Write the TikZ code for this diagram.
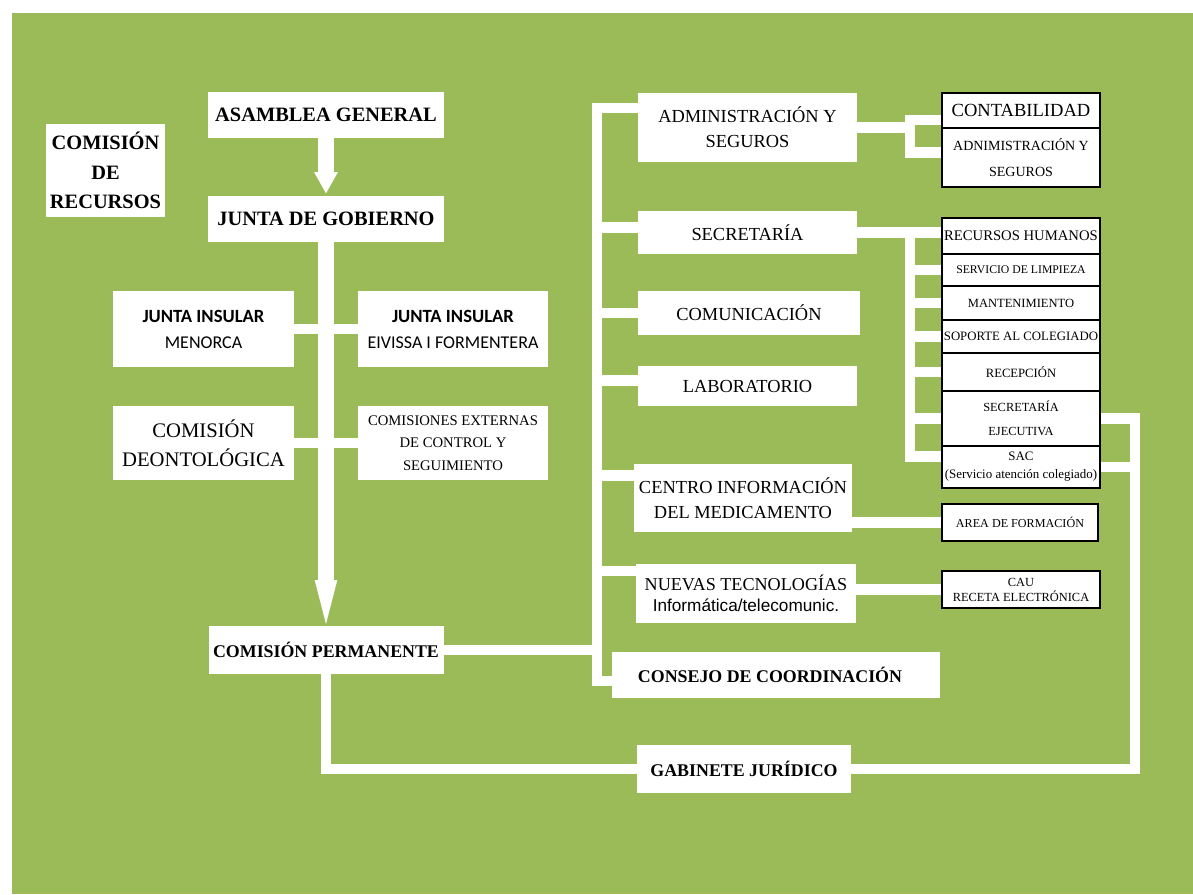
\documentclass[tikz,border=0pt]{standalone}
\usepackage{fontspec}
\setmainfont{Liberation Serif}
\newfontfamily\calibri{Carlito}
\newfontfamily\arial{Liberation Sans}
\usetikzlibrary{arrows.meta, positioning, backgrounds}
\definecolor{oliveback}{HTML}{9BBB59}
\newdimen\upx \upx=0.75pt
\tikzset{
  box/.style={fill=white, inner sep=0pt, outer sep=0pt, align=center},
  head/.style={box, font=\bfseries\fontsize{15.3}{22}\selectfont},
  unit/.style={box, font=\fontsize{13.8}{19}\selectfont},
  perm/.style={box, font=\bfseries\fontsize{13.4}{16}\selectfont},
  subbox/.style={box, draw=black, line width=1pt, minimum width=158\upx},
  link/.style={draw=white, line width=8pt},
  trunk/.style={draw=white, line width=11.5pt}
}

\begin{document}
\begin{tikzpicture}[x=0.75pt, y=-0.75pt]
    \useasboundingbox (0,0) rectangle (1193,894);

    % left column
    \node[head, minimum width=119\upx, minimum height=93\upx] (cdr) at (105.5,170.5) {COMISIÓN\\DE\\RECURSOS};
    \node[head, minimum width=236\upx, minimum height=46\upx] (ag) at (326,115) {ASAMBLEA GENERAL};
    \node[head, minimum width=236\upx, minimum height=46\upx] (jg) at (326,219) {JUNTA DE GOBIERNO};
    \node[box, font=\calibri\fontsize{13.5}{19.5}\selectfont, minimum width=181\upx, minimum height=76\upx] (men) at (203.5,329)
        {{\bfseries\fontsize{14}{19.5}\selectfont JUNTA INSULAR}\\MENORCA};
    \node[box, font=\calibri\fontsize{13.5}{19.5}\selectfont, minimum width=190\upx, minimum height=76\upx] (eiv) at (453,329)
        {{\bfseries\fontsize{14}{19.5}\selectfont JUNTA INSULAR}\\EIVISSA I FORMENTERA};
    \node[box, font=\fontsize{15.5}{22}\selectfont, minimum width=181\upx, minimum height=74\upx] (deo) at (203.5,443) {COMISIÓN\\DEONTOLÓGICA};
    \node[box, font=\fontsize{11}{17}\selectfont, minimum width=190\upx, minimum height=74\upx] (ext) at (453,443) {COMISIONES EXTERNAS\\DE CONTROL Y\\SEGUIMIENTO};
    \node[perm, minimum width=235\upx, minimum height=48\upx] (cp) at (326,650) {COMISIÓN PERMANENTE};

    % middle column
    \node[unit, minimum width=219\upx, minimum height=69\upx] (adm) at (747.5,127.5) {ADMINISTRACIÓN Y\\SEGUROS};
    \node[unit, minimum width=219\upx, minimum height=43\upx] (sec) at (747.5,232.5) {SECRETARÍA};
    \node[unit, minimum width=222\upx, minimum height=44\upx] (com) at (749,313) {COMUNICACIÓN};
    \node[unit, minimum width=219\upx, minimum height=40\upx] (lab) at (747.5,386) {LABORATORIO};
    \node[unit, minimum width=218\upx, minimum height=68\upx] (cim) at (743,498) {CENTRO INFORMACIÓN\\DEL MEDICAMENTO};
    \node[unit, font=\fontsize{13.6}{16}\selectfont, minimum width=220\upx, minimum height=59\upx] (nt) at (746,593.5)
        {NUEVAS TECNOLOGÍAS\\{\arial\fontsize{12.9}{16}\selectfont Informática/telecomunic.}};
    \node[perm, minimum width=328\upx, minimum height=46\upx] (cons) at (776,675) {CONSEJO DE COORDINACIÓN\hspace*{9pt}};
    \node[perm, minimum width=214\upx, minimum height=48\upx] (gj) at (744,769) {GABINETE JURÍDICO};

    % right column
    \node[subbox, minimum height=35\upx, font=\fontsize{13.9}{16}\selectfont] (cont) at (1021,110.5) {CONTABILIDAD};
    \node[subbox, below=0pt of cont, minimum height=59\upx, font=\fontsize{10.5}{19}\selectfont] (adn) {ADNIMISTRACIÓN Y\\SEGUROS};
    \node[subbox, minimum height=36\upx, font=\fontsize{11}{13}\selectfont] (rh) at (1021,236) {RECURSOS HUMANOS};
    \node[subbox, below=0pt of rh, minimum height=32\upx, font=\fontsize{8.8}{11}\selectfont] (serv) {SERVICIO DE LIMPIEZA};
    \node[subbox, below=0pt of serv, minimum height=34\upx, font=\fontsize{9.4}{11}\selectfont] (mant) {MANTENIMIENTO};
    \node[subbox, below=0pt of mant, minimum height=33\upx, font=\fontsize{9.6}{11}\selectfont] (sop) {SOPORTE AL COLEGIADO};
    \node[subbox, below=0pt of sop, minimum height=38\upx, font=\fontsize{9.5}{11}\selectfont] (recep) {RECEPCIÓN};
    \node[subbox, below=0pt of recep, minimum height=55\upx, font=\fontsize{9.3}{18}\selectfont] (se) {SECRETARÍA\\EJECUTIVA};
    \node[subbox, below=0pt of se, minimum height=42\upx, font=\fontsize{9.7}{13.5}\selectfont] (sac) {SAC\\(Servicio atención colegiado)};
    \node[subbox, minimum width=156\upx, minimum height=37\upx, font=\fontsize{9.1}{11}\selectfont] (area) at (1020,522.5) {AREA DE FORMACIÓN};
    \node[subbox, minimum height=37\upx, font=\fontsize{9.3}{11.25}\selectfont] (cau) at (1021,589.5) {CAU\\RECETA ELECTRÓNICA};

    \coordinate (bt) at (597,108);
    \coordinate (bb) at (597,681);
    \coordinate (af) at (910,127.5);
    \coordinate (sf) at (910,232.5);

    \begin{scope}[on background layer]
      \fill[oliveback] (12,13) rectangle (1193,894);
      % main line
      \draw[trunk, -{Triangle[width=18pt, length=16pt, line width=0pt]}] (ag.south) -- ([yshift=2pt]jg.north);
      \draw[trunk, -{Triangle[width=17pt, length=33pt, line width=0pt]}] (jg.south) -- ([yshift=1.5pt]cp.north);
      \draw[link] (men.east) -- (eiv.west);
      \draw[link] (deo.east) -- (ext.west);
      % bus to the areas
      \draw[link] (adm.west |- bt) -- (bt) -- (bb) -- (cons.west |- bb);
      \draw[link] (cp.east) -- (cp.east -| bt);
      \foreach \n/\d in {sec/4, com/0, lab/4, cim/17, nt/17}
        \draw[link] ([yshift=\d pt]\n.west) -| (bt);
      % forks
      \draw[link] (adm.east) -- (af);
      \draw[link] ([yshift=-7pt]cont.west) -| (af) |- ([yshift=4pt]adn.west);
      \draw[link] (sec.east) -- (rh.west |- sec.east);
      \foreach \n in {serv, mant, sop, recep, se}
        \draw[link] (\n.west) -| (sf);
      \draw[link] ([yshift=8pt]sac.west) -| (sf);
      \draw[link] (area.west) -- (area.west -| cim.east);
      \draw[link] (cau.west) -- (cau.west -| nt.east);
      % legal loop
      \draw[link] (se.east) -- ++(35,0) |- (gj.east);
      \draw[link] (sac.east) -- ++(35,0);
      \draw[link] (cp.south) |- (gj.west);
    \end{scope}
\end{tikzpicture}
\end{document}
